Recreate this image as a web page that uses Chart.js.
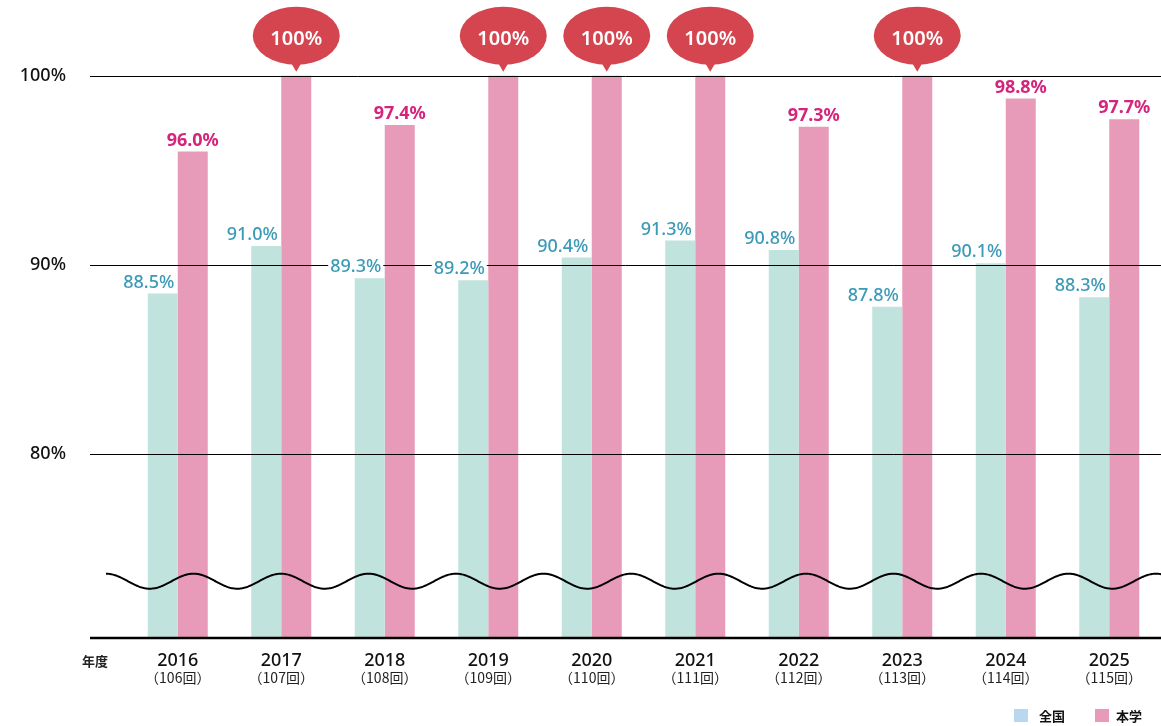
<!DOCTYPE html>
<html lang="ja">
<head>
<meta charset="utf-8">
<title>国家試験合格率の推移</title>
<script src="https://cdn.jsdelivr.net/npm/chart.js@4.4.1/dist/chart.umd.min.js"></script>
<style>
  html, body { margin: 0; padding: 0; background: #fff; overflow: hidden; }
  #wrap { position: relative; width: 1161px; height: 726px; }
</style>
</head>
<body>
<div id="wrap"><canvas id="chart"></canvas></div>
<script>
// data
const years = ['2016', '2017', '2018', '2019', '2020', '2021', '2022', '2023', '2024', '2025'];
const rounds = ['106回', '107回', '108回', '109回', '110回', '111回', '112回', '113回', '114回', '115回'];
const national = [88.5, 91.0, 89.3, 89.2, 90.4, 91.3, 90.8, 87.8, 90.1, 88.3];
const school = [96.0, 100, 97.4, 100, 100, 100, 97.3, 100, 98.8, 97.7];
const yTicks = [80, 90, 100];
const seriesNames = ['全国', '本学'];

const FONT = '"Noto Sans", "Noto Sans CJK JP", sans-serif';
const JP = '"Noto Sans CJK JP", "Noto Sans", sans-serif';
const BREAK_AT = 73.3;   // where the axis is cut (wavy line)

// draws grid lines over the bars, the cut mark, value labels, bubbles, sub labels and legend
const decorations = {
    id: 'decorations',
    afterDatasetsDraw(chart) {
        const ctx = chart.ctx;
        const x = chart.scales.x;
        const y = chart.scales.y;
        const area = chart.chartArea;
        const W = chart.width;
        ctx.save();

        // grid lines, drawn on top of the bars and a bit further left than the plot
        ctx.strokeStyle = '#000';
        ctx.lineWidth = 1;
        yTicks.forEach(v => {
            const py = Math.round(y.getPixelForValue(v)) + 0.5;
            ctx.beginPath();
            ctx.moveTo(90, py);
            ctx.lineTo(W, py);
            ctx.stroke();
        });

        // base line
        ctx.lineWidth = 2.5;
        ctx.beginPath();
        ctx.moveTo(90, area.bottom);
        ctx.lineTo(W, area.bottom);
        ctx.stroke();

        // wavy line for the broken axis
        const wy = y.getPixelForValue(BREAK_AT);
        const period = 87.5, amp = 7.5, x0 = 106;
        ctx.lineWidth = 2;
        ctx.beginPath();
        for (let px = x0; px <= W; px += 1) {
            const py = wy - amp * Math.cos(2 * Math.PI * (px - x0) / period);
            if (px === x0) ctx.moveTo(px, py); else ctx.lineTo(px, py);
        }
        ctx.stroke();

        // value labels (national ones sit on a white patch, like the original)
        ctx.textAlign = 'center';
        ctx.textBaseline = 'middle';
        chart.getDatasetMeta(0).data.forEach((bar, i) => {
            const txt = national[i].toFixed(1) + '%';
            const lx = bar.x - 14, ly = bar.y - 11;
            ctx.font = `500 18px ${FONT}`;
            const tw = ctx.measureText(txt).width;
            ctx.fillStyle = '#fff';
            ctx.fillRect(lx - tw / 2 - 2, ly - 8, tw + 4, 16);
            ctx.fillStyle = '#3b9ab6';
            ctx.fillText(txt, lx, ly);
        });
        chart.getDatasetMeta(1).data.forEach((bar, i) => {
            if (school[i] >= 100) {
                // speech bubble for 100%
                const cy = bar.y - 40;
                ctx.fillStyle = '#d5454f';
                ctx.beginPath();
                ctx.ellipse(bar.x, cy, 43.5, 29, 0, 0, Math.PI * 2);
                ctx.fill();
                ctx.beginPath();
                ctx.moveTo(bar.x - 7, cy + 24);
                ctx.lineTo(bar.x + 7, cy + 24);
                ctx.lineTo(bar.x, bar.y - 4);
                ctx.closePath();
                ctx.fill();
                ctx.fillStyle = '#fff';
                ctx.font = `600 20px ${FONT}`;
                ctx.fillText('100%', bar.x, cy + 4);
            } else {
                ctx.font = `700 18px ${FONT}`;
                ctx.fillStyle = '#d6247c';
                ctx.fillText(school[i].toFixed(1) + '%', bar.x, bar.y - 11);
            }
        });

        // exam round under each year
        ctx.fillStyle = '#222';
        ctx.font = `400 14px ${JP}`;
        rounds.forEach((r, i) => {
            ctx.fillText('（' + r + '）', x.getPixelForTick(i), 678);
        });
        ctx.font = `700 13px ${JP}`;
        ctx.fillText('年度', 95, 661);

        // legend
        const legendItems = [
            { text: seriesNames[0], color: '#b9d8ef', box: 1014, tx: 1052 },
            { text: seriesNames[1], color: '#e89bb9', box: 1095, tx: 1129 }
        ];
        legendItems.forEach(it => {
            ctx.fillStyle = it.color;
            ctx.fillRect(it.box, 709, 14, 13);
            ctx.fillStyle = '#111';
            ctx.font = `700 13px ${JP}`;
            ctx.fillText(it.text, it.tx, 716);
        });

        ctx.restore();
    }
};

new Chart(document.getElementById('chart'), {
    type: 'bar',
    data: {
        labels: years,
        datasets: [
            { label: seriesNames[0], data: national, backgroundColor: '#c0e3dd' },
            { label: seriesNames[1], data: school, backgroundColor: '#e89bb9' }
        ]
    },
    options: {
        responsive: true,
        maintainAspectRatio: false,
        animation: false,
        layout: { padding: 0 },
        datasets: { bar: { categoryPercentage: 0.58, barPercentage: 1.0 } },
        plugins: {
            legend: { display: false },
            tooltip: { enabled: false }
        },
        scales: {
            x: {
                grid: { display: false },
                border: { display: false },
                ticks: {
                    color: '#111',
                    font: { family: FONT, size: 18, weight: '500' },
                    padding: 4,
                    maxRotation: 0
                },
                afterFit(s) { s.height = 88; }
            },
            y: {
                min: 70.3,
                max: 104,
                grid: { display: false, drawTicks: false },
                border: { display: false },
                afterBuildTicks(s) { s.ticks = yTicks.map(v => ({ value: v })); },
                ticks: {
                    color: '#111',
                    padding: 60,
                    font: { family: FONT, size: 18, weight: '500' },
                    callback: v => v + '%'
                },
                afterFit(s) {
                    s.width = 126;
                    s.paddingTop = 0;
                    s.paddingBottom = 0;
                }
            }
        }
    },
    plugins: [decorations]
});
</script>
</body>
</html>
